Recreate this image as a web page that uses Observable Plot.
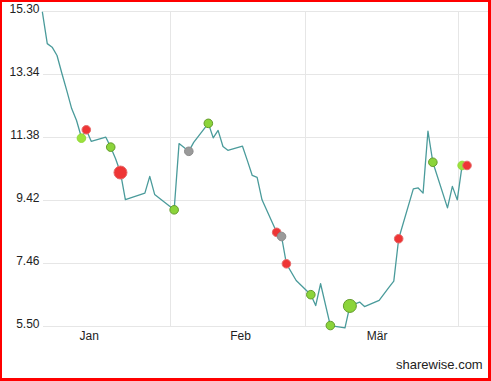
<!DOCTYPE html>
<html><head><meta charset="utf-8">
<script src="https://cdn.jsdelivr.net/npm/d3@7"></script>
<script src="https://cdn.jsdelivr.net/npm/@observablehq/plot@0.6"></script>
<style>
html,body{margin:0;padding:0;background:#fff;}
#wrap{position:relative;width:491px;height:381px;overflow:hidden;font-family:Arial,"Liberation Sans",sans-serif;}
#frame{position:absolute;left:0;top:0;width:491px;height:381px;box-sizing:border-box;border-style:solid;border-color:#ff0000;border-width:2px 3px 3px 2px;pointer-events:none;}
#chart{position:absolute;left:0;top:0;}
#caption{position:absolute;left:396px;top:357px;font-size:13px;line-height:15px;color:#222;}
</style></head><body>
<div id="wrap"><div id="chart"></div><div id="caption">sharewise.com</div><div id="frame"></div></div>
<script>
// price series
const priceDates = ["2020-12-22","2020-12-23","2020-12-24","2020-12-25","2020-12-26","2020-12-27","2020-12-28","2020-12-29","2020-12-30","2020-12-31",
  "2021-01-01","2021-01-04","2021-01-05","2021-01-06","2021-01-07","2021-01-08","2021-01-12","2021-01-13","2021-01-14","2021-01-18",
  "2021-01-19","2021-01-21","2021-01-22","2021-01-25","2021-01-26","2021-01-27","2021-01-28","2021-01-29","2021-02-01","2021-02-02",
  "2021-02-03","2021-02-04","2021-02-05","2021-02-08","2021-02-09","2021-02-10","2021-02-12","2021-02-15","2021-02-16","2021-02-17",
  "2021-02-19","2021-02-22","2021-02-23","2021-02-25","2021-02-26","2021-03-01","2021-03-03","2021-03-04","2021-03-05","2021-03-08",
  "2021-03-09","2021-03-10","2021-03-11","2021-03-12","2021-03-15","2021-03-16","2021-03-17","2021-03-18"];
const priceValues = [15.28,14.30,14.19,13.93,13.37,12.84,12.28,11.91,11.38,11.62,
  11.26,11.39,11.08,10.72,10.29,9.45,9.65,10.17,9.61,9.13,
  11.19,10.95,11.23,11.82,11.37,11.60,11.10,10.98,11.11,10.66,
  10.20,10.14,9.44,8.43,8.30,7.45,6.93,6.49,6.15,6.83,
  5.53,5.46,6.14,6.26,6.12,6.31,6.72,6.91,8.23,9.78,
  9.81,9.65,11.58,10.61,9.19,9.86,9.44,10.51];

// signal markers
const markerDates = ["2020-12-30","2020-12-31","2021-01-05","2021-01-07","2021-01-18","2021-01-21","2021-01-25","2021-02-08","2021-02-09",
  "2021-02-10","2021-02-15","2021-02-19","2021-02-23","2021-03-05","2021-03-12","2021-03-18","2021-03-19"];
const markerValues = [11.36,11.62,11.08,10.29,9.13,10.95,11.82,8.43,8.30,7.45,6.49,5.53,6.14,8.23,10.61,10.51,10.51];
const markerKinds = ["lime","red","green","red","green","gray","green","red","gray","red","green","green","green","red","green","lime","red"];
const markerWeights = [1,1,1,2,1,1,1,1,1,1,1,1,2,1,1,1,1];

// axes
const yTicks = [5.50,7.46,9.42,11.38,13.34,15.30];
const monthTickDates = ["2021-01-01","2021-02-01","2021-03-01"];
const monthTickLabels = ["Jan","Feb","Mär"];
const gridDates = ["2021-01-17T06:00Z","2021-02-13T22:00Z","2021-03-17T06:00Z"];
const xDomain = ["2020-12-22T05:30Z","2021-03-23T09:40Z"];

const parse = s => new Date(s.length === 10 ? s + "T00:00Z" : s);
const prices = priceDates.map((d, i) => ({date: parse(d), value: priceValues[i]}));
const markers = markerDates.map((d, i) => ({date: parse(d), value: markerValues[i], kind: markerKinds[i], w: markerWeights[i]}));
const labelMap = new Map(monthTickDates.map((d, i) => [+parse(d), monthTickLabels[i]]));

const kindStyle = {
  lime: {fill: "#9ce23c", stroke: "#93d93a"},
  green: {fill: "#8bd43a", stroke: "#649c2c"},
  red: {fill: "#ee3535", stroke: "#e66a6a"},
  gray: {fill: "#9a9a9a", stroke: "#8c8c8c"}
};
const dotMarks = ["lime","green","red","gray"].map(k => Plot.dot(markers.filter(m => m.kind === k), {
  x: "date", y: "value", r: "w", fill: kindStyle[k].fill, stroke: kindStyle[k].stroke, strokeWidth: 1
}));

const chart = Plot.plot({
  width: 491,
  height: 345,
  marginLeft: 43,
  marginRight: 3,
  marginTop: 11,
  marginBottom: 19,
  style: {fontFamily: "Arial, 'Liberation Sans', sans-serif", fontSize: "12px", color: "#222", background: "transparent"},
  x: {type: "utc", domain: xDomain.map(parse)},
  y: {domain: [5.50, 15.30]},
  r: {type: "linear", domain: [1, 2], range: [4.3, 6.5]},
  marks: [
    Plot.gridY(yTicks, {stroke: "#e6e6e6", strokeOpacity: 1}),
    Plot.gridX(gridDates.map(parse), {stroke: "#e6e6e6", strokeOpacity: 1}),
    Plot.axisY(yTicks, {tickSize: 0, tickPadding: 4, dy: -2, tickFormat: d => d.toFixed(2), label: null}),
    Plot.axisX(monthTickDates.map(parse), {tickSize: 0, tickPadding: 5, dx: -2, tickFormat: d => labelMap.get(+d), label: null}),
    Plot.line(prices, {x: "date", y: "value", stroke: "#4a9b9b", strokeWidth: 1.3}),
    ...dotMarks
  ]
});
document.getElementById("chart").appendChild(chart);
</script>
</body></html>
